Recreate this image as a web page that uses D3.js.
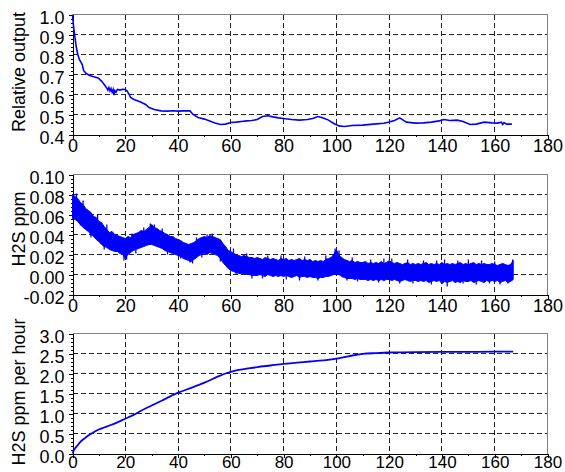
<!DOCTYPE html>
<html>
<head>
<meta charset="utf-8">
<script src="https://cdn.jsdelivr.net/npm/d3@7"></script>
<style>
body { margin: 0; background: #fff; }
svg text { font-family: "Liberation Sans", Arial, sans-serif; fill: #000; }
</style>
</head>
<body>
<svg id="chart" width="565" height="472"></svg>
<script>
// ---- data ----
const xTicks = [0, 20, 40, 60, 80, 100, 120, 140, 160, 180]

const relTime = [0, 0.4, 0.8, 1.4, 2, 2.6, 3.7, 4.2, 5.2, 6.5, 7.7, 9.7, 11, 12.3, 13, 13.4, 13.8, 14.2, 14.6, 15, 15.4, 15.7, 16, 16.5, 17, 18, 19, 20, 20.7, 21.5, 22, 23.3, 25.8, 27.7, 29, 31, 33.5, 36, 38, 40, 42, 44.5, 45.7, 47.6, 50, 52, 54, 56, 58, 60, 62, 64, 66, 68, 70, 72, 74, 76, 78, 80, 83, 86, 89, 91, 93, 95, 97, 99, 101, 103, 106, 110, 114, 118, 120, 122, 124, 126.5, 130, 133, 136, 139, 140.7, 143, 145.7, 148, 150.7, 153, 156, 159, 161, 162.5, 163, 163.5, 164.5, 166.5]
const relOutput = [1.0, 0.94, 0.90, 0.84, 0.80, 0.775, 0.75, 0.72, 0.705, 0.695, 0.69, 0.683, 0.667, 0.645, 0.632, 0.622, 0.635, 0.618, 0.63, 0.612, 0.625, 0.597, 0.62, 0.612, 0.625, 0.622, 0.626, 0.625, 0.617, 0.6, 0.585, 0.575, 0.562, 0.55, 0.535, 0.525, 0.518, 0.517, 0.519, 0.517, 0.518, 0.518, 0.5, 0.485, 0.477, 0.468, 0.458, 0.45, 0.452, 0.46, 0.462, 0.465, 0.468, 0.47, 0.475, 0.49, 0.494, 0.488, 0.483, 0.48, 0.475, 0.472, 0.475, 0.48, 0.49, 0.483, 0.472, 0.455, 0.443, 0.44, 0.445, 0.447, 0.452, 0.456, 0.462, 0.47, 0.483, 0.462, 0.457, 0.458, 0.462, 0.468, 0.475, 0.47, 0.472, 0.465, 0.45, 0.452, 0.462, 0.458, 0.457, 0.462, 0.45, 0.46, 0.452, 0.452]

// H2S ppm: noisy band, upper and lower edge per hour (ppm)
const h2sUpper = [
  .080, .078, .076, .072, .070, .066, .064, .062, .058, .057,
  .053, .052, .048, .045, .042, .043, .040, .039, .038, .037,
  .036, .038, .037, .040, .041, .042, .044, .043, .045, .047,
  .050, .047, .046, .044, .043, .041, .040, .038, .038, .036,
  .035, .034, .032, .031, .030, .031, .032, .034, .036, .037,
  .038, .037, .039, .038, .037, .036, .035, .031, .028, .024,
  .023, .021, .020, .019, .018, .019, .018, .017, .017, .016,
  .017, .016, .015, .017, .016, .015, .016, .015, .014, .016,
  .015, .016, .014, .015, .014, .015, .016, .014, .015, .014,
  .015, .013, .014, .013, .014, .013, .015, .016, .017, .020,
  .025, .019, .017, .015, .014, .013, .014, .012, .013, .012,
  .012, .013, .011, .012, .011, .012, .011, .013, .011, .012,
  .014, .012, .011, .012, .011, .010, .011, .012, .010, .011,
  .010, .011, .010, .011, .012, .010, .011, .010, .011, .010,
  .012, .010, .011, .010, .011, .010, .011, .012, .010, .011,
  .010, .011, .012, .010, .011, .010, .011, .010, .010, .011,
  .010, .009, .010, .011, .010, .009, .010, .014]
const h2sLower = [
  .056, .055, .053, .050, .047, .045, .043, .040, .038, .035,
  .033, .030, .028, .027, .025, .024, .023, .023, .021, .020,
  .016, .020, .022, .024, .025, .026, .027, .028, .029, .030,
  .030, .029, .028, .027, .026, .024, .023, .022, .021, .020,
  .019, .018, .016, .015, .014, .013, .015, .017, .019, .020,
  .021, .020, .022, .021, .020, .019, .016, .012, .009, .006,
  .004, .003, .002, .001, .001, .000, .000, .000, -.001, -.001,
  -.001, .000, -.001, -.002, .000, -.001, -.002, -.001, -.002, -.001,
  -.002, -.001, -.002, -.003, -.002, -.001, -.003, -.002, -.002, -.003,
  -.002, -.003, -.003, -.004, -.003, -.003, -.002, -.002, -.001, .000,
  .000, .000, -.002, -.003, -.004, -.004, -.004, -.005, -.004, -.005,
  -.005, -.005, -.006, -.005, -.006, -.005, -.006, -.005, -.006, -.005,
  -.005, -.006, -.005, -.006, -.007, -.006, -.005, -.006, -.007, -.006,
  -.006, -.007, -.006, -.007, -.006, -.008, -.007, -.006, -.007, -.006,
  -.009, -.007, -.008, -.007, -.006, -.008, -.007, -.008, -.006, -.007,
  -.007, -.006, -.008, -.007, -.006, -.007, -.008, -.006, -.007, -.006,
  -.007, -.006, -.008, -.007, -.006, -.008, -.007, -.005]
// single noise spikes sticking out of the band: [hour, ppm]
const h2sSpikes = [
  [1.5, .081], [4, .074], [9.5, .060], [13, .050], [22.5, .041], [27, .047], [29.5, .051], [31, .050],
  [34, .046], [47, .037], [51, .040], [53, .041], [61, .026], [66, .021], [74, .019], [79, .019],
  [88, .018], [96, .019], [99.5, .026], [101, .024], [106, .017], [113, .015], [118, .016], [121, .016],
  [127, .015], [133, .014], [138, .014], [141, .015], [146, .014], [150, .015], [155, .014], [160, .013],
  [166.8, .015],
  [3, .049], [7, .037], [12, .025], [19.5, .014], [20.5, .015], [24, .021], [36, .020], [41, .016],
  [44.5, .012], [45.5, .011], [49, .017], [56, .013], [62, .000], [68, -.004], [72, -.004], [81, -.005],
  [86, -.006], [93, -.006], [104, -.006], [108, -.007], [116, -.008], [124, -.009], [129, -.009], [136, -.010],
  [142, -.012], [148, -.009], [153, -.010], [158, -.009], [162, -.010], [165, -.009]]

const rateTime = [0, 0.5, 1, 2, 3, 4, 5, 6, 8, 10, 12, 14, 17, 20, 23, 26, 30, 35, 40, 45, 50, 55, 58, 60, 63, 66, 70, 75, 80, 85, 90, 95, 100, 103, 106, 110, 115, 120, 125, 130, 140, 150, 160, 167]
const rateValue = [0, 0.08, 0.13, 0.21, 0.29, 0.35, 0.4, 0.45, 0.53, 0.6, 0.65, 0.7, 0.78, 0.87, 0.96, 1.07, 1.2, 1.36, 1.52, 1.64, 1.77, 1.92, 2.0, 2.04, 2.09, 2.12, 2.16, 2.2, 2.24, 2.27, 2.3, 2.33, 2.37, 2.41, 2.45, 2.49, 2.51, 2.525, 2.53, 2.535, 2.54, 2.54, 2.545, 2.545]

const relTicks = [0.4, 0.5, 0.6, 0.7, 0.8, 0.9, 1.0]
const h2sTicks = [-0.02, 0.00, 0.02, 0.04, 0.06, 0.08, 0.10]
const rateTicks = [0, 0.5, 1.0, 1.5, 2.0, 2.5, 3.0]

// ---- layout ----
const svg = d3.select("#chart")
const plotLeft = 72.5, plotRight = 547.5, plotHeight = 120
const xScale = d3.scaleLinear().domain([0, 180]).range([plotLeft, plotRight])
const blue = "#0000ff"

function drawPanel({ top, ticks, format, title, titleY, minorStep, xFont, xPad }) {
    const bottom = top + plotHeight
    const yScale = d3.scaleLinear()
        .domain([ticks[0], ticks[ticks.length - 1]])
        .range([bottom, top])
    const g = svg.append("g")

    // dashed grid
    g.selectAll(".hgrid")
        .data(ticks.slice(1, -1))
        .enter()
        .append("line")
        .attr("x1", plotLeft).attr("x2", plotRight)
        .attr("y1", d => yScale(d)).attr("y2", d => yScale(d))
        .attr("stroke", "#202020")
        .attr("stroke-dasharray", "5,3")
        .attr("shape-rendering", "crispEdges")
    g.selectAll(".vgrid")
        .data(xTicks.slice(1, -1))
        .enter()
        .append("line")
        .attr("x1", d => xScale(d)).attr("x2", d => xScale(d))
        .attr("y1", top).attr("y2", bottom)
        .attr("stroke", "#202020")
        .attr("stroke-dasharray", "5,3")
        .attr("shape-rendering", "crispEdges")

    // grey frame top/right
    g.append("path")
        .attr("d", `M${plotLeft},${top}H${plotRight}V${bottom}`)
        .attr("fill", "none")
        .attr("stroke", "#808080")
        .attr("shape-rendering", "crispEdges")

    // y axis
    const yMinor = d3.range(ticks[0], ticks[ticks.length - 1] + minorStep / 2, minorStep)
    g.append("g")
        .attr("transform", `translate(${plotLeft},0)`)
        .call(d3.axisLeft(yScale).tickValues(yMinor).tickSize(2).tickFormat(""))
        .call(a => a.select(".domain").remove())
        .attr("shape-rendering", "crispEdges")
    const yAxis = g.append("g")
        .attr("transform", `translate(${plotLeft},0)`)
        .call(d3.axisLeft(yScale).tickValues(ticks).tickSize(4).tickSizeOuter(0).tickPadding(4).tickFormat(format))
        .attr("shape-rendering", "crispEdges")
    yAxis.selectAll("text")
        .attr("font-size", 18).attr("dy", "0.5em")
        .attr("font-family", null)
    yAxis.selectAll("line, path").attr("stroke", "#000")

    // x axis
    g.append("g")
        .attr("transform", `translate(0,${bottom})`)
        .call(d3.axisBottom(xScale).tickValues(d3.range(10, 180, 20)).tickSize(2).tickFormat(""))
        .call(a => a.select(".domain").remove())
        .attr("shape-rendering", "crispEdges")
    const xAxis = g.append("g")
        .attr("transform", `translate(0,${bottom})`)
        .call(d3.axisBottom(xScale).tickValues(xTicks).tickSize(4).tickSizeOuter(0).tickPadding(xPad).tickFormat(d3.format("d")))
        .attr("shape-rendering", "crispEdges")
    xAxis.selectAll("text")
        .attr("font-size", xFont)
        .attr("font-family", null)

    // axis title
    svg.append("text")
        .attr("transform", `translate(25,${titleY}) rotate(-90)`)
        .attr("text-anchor", "middle")
        .attr("font-size", 18)
        .text(title)

    return yScale
}

const yRel = drawPanel({ top: 14.5, ticks: relTicks, format: d => d.toFixed(1), title: "Relative output", titleY: 72, minorStep: 0.02, xFont: 18, xPad: 1 })
const yH2s = drawPanel({ top: 174.5, ticks: h2sTicks, format: d => d.toFixed(2), title: "H2S ppm", titleY: 229, minorStep: 0.004, xFont: 18, xPad: 1 })
const yRate = drawPanel({ top: 333.5, ticks: rateTicks, format: d => d.toFixed(1), title: "H2S ppm per hour", titleY: 392, minorStep: 0.1, xFont: 17, xPad: -1.5 })

// panel 1: relative output
svg.append("path")
    .datum(relTime.map((t, i) => [t, relOutput[i]]))
    .attr("fill", "none")
    .attr("stroke", blue)
    .attr("stroke-width", 1.6)
    .attr("d", d3.line().x(d => xScale(d[0])).y(d => yRel(d[1])))

// panel 2: noisy H2S band
svg.append("path")
    .datum(h2sUpper.map((u, i) => [i, u, h2sLower[i]]))
    .attr("fill", blue)
    .attr("stroke", blue)
    .attr("stroke-width", 1)
    .attr("d", d3.area().x(d => xScale(d[0])).y1(d => yH2s(d[1])).y0(d => yH2s(d[2])))
svg.append("g")
    .selectAll("line")
    .data(h2sSpikes)
    .enter()
    .append("line")
    .attr("x1", d => xScale(d[0])).attr("x2", d => xScale(d[0]))
    .attr("y1", d => {
        const i = Math.round(d[0])
        return yH2s((h2sUpper[i] + h2sLower[i]) / 2)
    })
    .attr("y2", d => yH2s(d[1]))
    .attr("stroke", blue)
    .attr("stroke-width", 1.3)

// panel 3: rate
svg.append("path")
    .datum(rateTime.map((t, i) => [t, rateValue[i]]))
    .attr("fill", "none")
    .attr("stroke", blue)
    .attr("stroke-width", 1.8)
    .attr("d", d3.line().curve(d3.curveMonotoneX).x(d => xScale(d[0])).y(d => yRate(d[1])))
</script>
</body>
</html>
